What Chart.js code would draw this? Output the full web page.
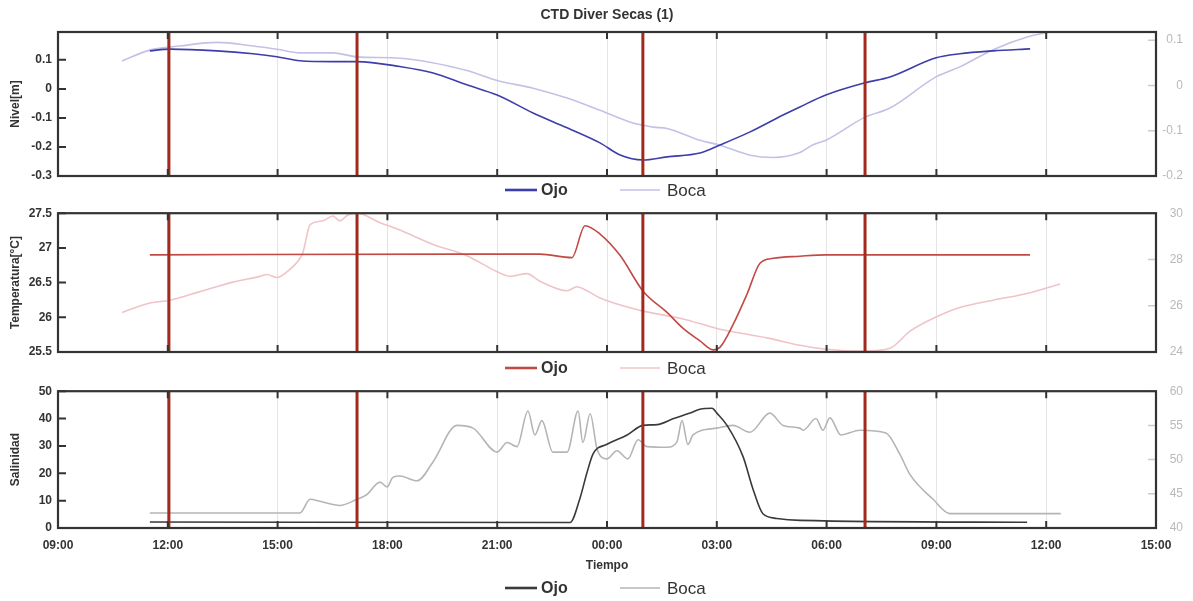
<!DOCTYPE html>
<html>
<head>
<meta charset="utf-8">
<title>CTD Diver Secas (1)</title>
<script src="https://cdn.jsdelivr.net/npm/chart.js@4.4.0/dist/chart.umd.min.js"></script>
<style>
  html, body { margin: 0; padding: 0; background: #fff; }
  #wrap { position: relative; width: 1193px; height: 601px; }
  #wrap canvas { position: absolute; left: 0; }
</style>
</head>
<body>
<div id="wrap">
  <canvas id="nivel-chart" width="1193" height="200" style="top:0px"></canvas>
  <canvas id="temp-chart" width="1193" height="178" style="top:200px"></canvas>
  <canvas id="sal-chart" width="1193" height="223" style="top:378px"></canvas>
</div>
<script>
// time axis: hours since 00:00 of the first day (09:00 -> 9, 15:00 next day -> 39)
const hourTicks = [9, 12, 15, 18, 21, 24, 27, 30, 33, 36, 39];
const eventTimes = [12.03, 17.17, 24.98, 31.05];

// Nivel [m]
const nivelOjoTime = [11.51, 12.06, 13.34, 14.33, 14.98, 15.61, 16.51, 17.17, 18.34, 19.25, 20.17, 21.0, 21.98, 22.91, 23.81, 24.36, 24.98, 25.64, 26.54, 27.09, 27.91, 28.81, 29.27, 29.98, 31.05, 31.73, 32.99, 33.64, 34.55, 35.56];
const nivelOjo = [0.131, 0.137, 0.131, 0.121, 0.111, 0.097, 0.094, 0.094, 0.077, 0.055, 0.014, -0.021, -0.083, -0.134, -0.186, -0.228, -0.245, -0.234, -0.221, -0.193, -0.148, -0.090, -0.062, -0.021, 0.021, 0.041, 0.107, 0.121, 0.131, 0.138];
const nivelBocaTime = [10.75, 11.51, 12.33, 13.34, 14.33, 14.98, 15.61, 16.51, 17.17, 18.34, 20.17, 21.0, 21.98, 22.91, 23.81, 24.71, 25.26, 25.64, 26.54, 27.09, 27.91, 28.54, 29.27, 29.63, 29.98, 31.05, 31.73, 32.99, 33.64, 34.55, 35.48, 36.1];
const nivelBoca = [0.054, 0.078, 0.087, 0.095, 0.087, 0.080, 0.072, 0.072, 0.063, 0.060, 0.033, 0.011, -0.006, -0.028, -0.055, -0.083, -0.092, -0.095, -0.121, -0.132, -0.154, -0.159, -0.148, -0.131, -0.121, -0.070, -0.050, 0.019, 0.041, 0.079, 0.107, 0.118];
const nivelTicks = [-0.3, -0.2, -0.1, 0, 0.1];
const nivelBocaTicks = [-0.2, -0.1, 0, 0.1];

// Temperatura [°C]
const tempOjoTime = [11.51, 20.0, 22.17, 23.04, 23.40, 23.81, 24.36, 24.98, 25.64, 26.08, 26.54, 26.90, 27.09, 27.44, 27.83, 28.18, 28.54, 29.27, 29.98, 35.56];
const tempOjo = [26.90, 26.91, 26.91, 26.86, 27.32, 27.20, 26.89, 26.38, 26.07, 25.84, 25.66, 25.53, 25.57, 25.89, 26.34, 26.78, 26.85, 26.88, 26.90, 26.90];
const tempBocaTime = [10.75, 11.51, 12.06, 12.88, 13.78, 14.52, 14.71, 14.98, 15.26, 15.61, 15.69, 15.89, 16.24, 16.51, 16.70, 16.92, 17.17, 17.80, 18.34, 19.25, 20.17, 21.0, 21.35, 21.81, 22.17, 22.91, 23.18, 23.45, 23.81, 24.90, 26.08, 27.0, 28.37, 29.27, 29.98, 31.05, 31.73, 32.28, 32.99, 33.64, 34.55, 35.48, 36.38];
const tempBoca = [25.71, 26.12, 26.24, 26.61, 27.02, 27.27, 27.35, 27.22, 27.47, 28.04, 28.29, 29.51, 29.67, 29.88, 29.67, 29.92, 30.0, 29.59, 29.27, 28.65, 28.16, 27.47, 27.27, 27.39, 27.06, 26.65, 26.82, 26.65, 26.33, 25.80, 25.43, 25.02, 24.61, 24.29, 24.12, 24.04, 24.16, 24.90, 25.51, 25.92, 26.24, 26.53, 26.94];
const tempTicks = [25.5, 26, 26.5, 27, 27.5];
const tempBocaTicks = [24, 26, 28, 30];

// Salinidad
const salOjoTime = [11.51, 22.99, 23.26, 23.45, 23.62, 24.0, 24.55, 24.98, 25.37, 25.80, 26.27, 26.54, 26.87, 27.0, 27.28, 27.72, 27.99, 28.26, 28.64, 29.27, 35.48];
const salOjo = [2.2, 2.0, 10.8, 20.1, 27.1, 30.6, 34.0, 37.5, 37.8, 39.9, 42.0, 43.4, 43.75, 42.0, 37.5, 26.0, 14.2, 5.2, 3.5, 2.8, 2.1];
const salBocaTime = [11.51, 12.88, 15.61, 15.89, 16.16, 16.70, 17.17, 17.44, 17.80, 17.99, 18.15, 18.34, 18.81, 19.25, 19.90, 20.34, 21.0, 21.27, 21.54, 21.84, 22.03, 22.22, 22.52, 22.91, 23.21, 23.34, 23.54, 23.73, 24.0, 24.27, 24.57, 24.85, 25.09, 25.64, 25.91, 26.05, 26.21, 26.35, 27.0, 27.44, 27.91, 28.45, 28.81, 29.27, 29.36, 29.71, 29.90, 30.09, 30.39, 30.91, 31.62, 32.0, 32.28, 32.91, 33.37, 34.08, 36.40];
const salBoca = [42.2, 42.2, 42.2, 44.2, 43.9, 43.3, 44.2, 44.9, 46.7, 46.0, 47.4, 47.6, 46.9, 49.7, 55.0, 54.6, 51.1, 52.5, 51.9, 57.1, 53.6, 55.7, 51.1, 51.1, 57.1, 52.5, 56.7, 51.5, 50.1, 51.3, 50.1, 52.9, 51.9, 51.8, 52.6, 55.7, 52.2, 53.6, 54.6, 55.0, 54.0, 56.8, 55.0, 54.6, 54.3, 56.0, 54.3, 56.1, 53.6, 54.3, 53.9, 50.8, 47.8, 44.2, 42.1, 42.1, 42.1];
const salTicks = [0, 10, 20, 30, 40, 50];
const salBocaTicks = [40, 45, 50, 55, 60];

const FONT = 'Liberation Sans, Arial, Helvetica, sans-serif';
const DARK = '#333333';

function toPoints(times, values) {
  return times.map((t, i) => ({ x: t, y: values[i] }));
}

function hourLabel(v) {
  return String(v % 24).padStart(2, '0') + ':00';
}

function numLabel(v) {
  return String(Math.round(v * 1000) / 1000);
}

function useTicks(list) {
  return scale => { scale.ticks = list.map(v => ({ value: v })); };
}

// vertical event markers spanning the whole left axis
function eventDatasets(min, max) {
  return eventTimes.map(t => ({
    data: [{ x: t, y: min }, { x: t, y: max }],
    borderColor: '#a3291d',
    borderWidth: 3,
    pointRadius: 0,
    yAxisID: 'y'
  }));
}

function series(label, times, values, color, axis) {
  return {
    label: label,
    data: toPoints(times, values),
    borderColor: color,
    backgroundColor: color,
    borderWidth: 1.6,
    pointRadius: 0,
    cubicInterpolationMode: 'monotone',
    yAxisID: axis
  };
}

// box, inward tick marks, title and the legend row under each panel
const panelFrame = {
  id: 'panelFrame',
  afterDraw(chart, args, opts) {
    const { ctx, chartArea: a, scales } = chart;
    ctx.save();
    ctx.lineWidth = 2;
    ctx.strokeStyle = DARK;
    ctx.beginPath();
    scales.x.ticks.forEach((tick, i) => {
      if (i === 0 || i === scales.x.ticks.length - 1) return;
      const px = scales.x.getPixelForValue(tick.value);
      ctx.moveTo(px, a.top); ctx.lineTo(px, a.top + 7);
      ctx.moveTo(px, a.bottom); ctx.lineTo(px, a.bottom - 7);
    });
    scales.y.ticks.forEach(tick => {
      const py = scales.y.getPixelForValue(tick.value);
      ctx.moveTo(a.left, py); ctx.lineTo(a.left + 8, py);
    });
    ctx.stroke();

    ctx.strokeStyle = '#cccccc';
    ctx.lineWidth = 1.5;
    ctx.beginPath();
    scales.y2.ticks.forEach(tick => {
      const py = scales.y2.getPixelForValue(tick.value);
      ctx.moveTo(a.right - 8, py); ctx.lineTo(a.right, py);
    });
    ctx.stroke();

    ctx.strokeStyle = DARK;
    ctx.lineWidth = 2.2;
    ctx.strokeRect(a.left, a.top, a.right - a.left, a.bottom - a.top);

    const cx = (a.left + a.right) / 2;
    ctx.textBaseline = 'middle';

    if (opts.title) {
      ctx.textAlign = 'center';
      ctx.fillStyle = DARK;
      ctx.font = 'bold 14px ' + FONT;
      ctx.fillText(opts.title, cx, 15);
    }

    // legend
    const items = chart.data.datasets.filter(d => d.label);
    const y = opts.legendY;
    const layout = [
      { x0: cx - 102, x1: cx - 70, tx: cx - 66, font: 'bold 16px ' + FONT, w: 2.6 },
      { x0: cx + 13, x1: cx + 53, tx: cx + 60, font: '17px ' + FONT, w: 1.6 }
    ];
    ctx.textAlign = 'left';
    items.forEach((d, i) => {
      const l = layout[i];
      ctx.strokeStyle = d.borderColor;
      ctx.lineWidth = l.w;
      ctx.beginPath();
      ctx.moveTo(l.x0, y); ctx.lineTo(l.x1, y);
      ctx.stroke();
      ctx.fillStyle = DARK;
      ctx.font = l.font;
      ctx.fillText(d.label, l.tx, y + 1);
    });
    ctx.restore();
  }
};

function panelOptions(cfg) {
  return {
    responsive: false,
    animation: false,
    events: [],
    layout: { padding: cfg.padding },
    plugins: {
      legend: { display: false },
      tooltip: { enabled: false },
      title: { display: false },
      panelFrame: { legendY: cfg.legendY, title: cfg.title }
    },
    scales: {
      x: {
        type: 'linear',
        min: 9,
        max: 39,
        afterBuildTicks: useTicks(hourTicks),
        afterFit: s => { s.height = cfg.xHeight; },
        grid: { color: '#e4e4e4', lineWidth: 1, drawTicks: false },
        border: { display: false },
        ticks: {
          display: cfg.showX,
          padding: 10,
          color: DARK,
          font: { family: FONT, size: 12, weight: 'bold' },
          callback: hourLabel,
          maxRotation: 0
        },
        title: {
          display: cfg.showX,
          text: 'Tiempo',
          color: DARK,
          font: { family: FONT, size: 12, weight: 'bold' },
          padding: { top: 0, bottom: 28 }
        }
      },
      y: {
        position: 'left',
        min: cfg.yMin,
        max: cfg.yMax,
        afterBuildTicks: useTicks(cfg.yTicks),
        afterFit: s => { s.width = 58; },
        grid: { display: false, drawTicks: false },
        border: { display: false },
        ticks: {
          padding: 6,
          color: DARK,
          font: { family: FONT, size: 12, weight: 'bold' },
          callback: numLabel
        },
        title: {
          display: true,
          text: cfg.yTitle,
          color: DARK,
          font: { family: FONT, size: 12, weight: 'bold' },
          padding: { top: 8, bottom: 0 }
        }
      },
      y2: {
        position: 'right',
        min: cfg.y2Min,
        max: cfg.y2Max,
        afterBuildTicks: useTicks(cfg.y2Ticks),
        afterFit: s => { s.width = 27; },
        grid: { display: false, drawTicks: false },
        border: { display: false },
        ticks: {
          padding: 5,
          crossAlign: 'far',
          color: '#b9b9b9',
          font: { family: FONT, size: 12 },
          callback: numLabel
        }
      }
    }
  };
}

new Chart(document.getElementById('nivel-chart'), {
  type: 'line',
  data: {
    datasets: [
      ...eventDatasets(-0.3, 0.196),
      series('Ojo', nivelOjoTime, nivelOjo, '#3d3dab', 'y'),
      series('Boca', nivelBocaTime, nivelBoca, '#c2c2e6', 'y2')
    ]
  },
  options: panelOptions({
    title: 'CTD Diver Secas (1)',
    padding: { top: 32, bottom: 24, left: 0, right: 10 },
    legendY: 190,
    xHeight: 0,
    showX: false,
    yMin: -0.3, yMax: 0.196, yTicks: nivelTicks, yTitle: 'Nivel[m]',
    y2Min: -0.2, y2Max: 0.118, y2Ticks: nivelBocaTicks
  }),
  plugins: [panelFrame]
});

new Chart(document.getElementById('temp-chart'), {
  type: 'line',
  data: {
    datasets: [
      ...eventDatasets(25.5, 27.5),
      series('Ojo', tempOjoTime, tempOjo, '#c24a44', 'y'),
      series('Boca', tempBocaTime, tempBoca, '#f0c3c9', 'y2')
    ]
  },
  options: panelOptions({
    padding: { top: 5, bottom: 26, left: 0, right: 10 },
    legendY: 168,
    xHeight: 0,
    showX: false,
    yMin: 25.5, yMax: 27.5, yTicks: tempTicks, yTitle: 'Temperatura[°C]',
    y2Min: 24, y2Max: 30, y2Ticks: tempBocaTicks
  }),
  plugins: [panelFrame]
});

new Chart(document.getElementById('sal-chart'), {
  type: 'line',
  data: {
    datasets: [
      ...eventDatasets(0, 50),
      series('Ojo', salOjoTime, salOjo, '#3a3a3a', 'y'),
      series('Boca', salBocaTime, salBoca, '#b5b5b5', 'y2')
    ]
  },
  options: panelOptions({
    padding: { top: 6, bottom: 0, left: 0, right: 10 },
    legendY: 210,
    xHeight: 73,
    showX: true,
    yMin: 0, yMax: 50, yTicks: salTicks, yTitle: 'Salinidad',
    y2Min: 40, y2Max: 60, y2Ticks: salBocaTicks
  }),
  plugins: [panelFrame]
});
</script>
</body>
</html>
